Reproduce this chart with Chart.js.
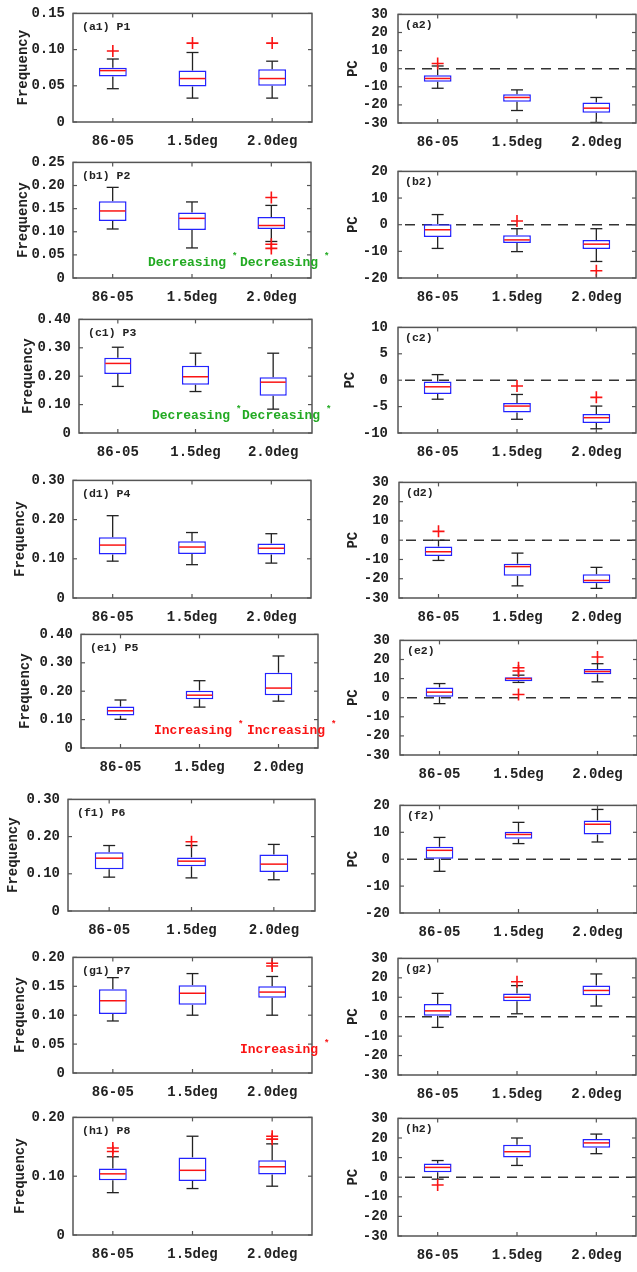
<!DOCTYPE html>
<html><head><meta charset="utf-8">
<script src="https://cdn.jsdelivr.net/npm/chart.js@4.4.1/dist/chart.umd.min.js"></script>
<style>
html,body{margin:0;padding:0;background:#fff;width:637px;height:1272px;overflow:hidden;position:relative}
canvas{position:absolute}
</style></head><body>
<script>
// ---------- DATA ----------
const categories = ['86-05', '1.5deg', '2.0deg'];
// each entry: [lower whisker, Q1, median, Q3, upper whisker]
const freqP1 = [[0.046,0.063,0.071,0.075,0.087],[0.033,0.049,0.060,0.071,0.096],[0.033,0.050,0.060,0.073,0.084]];
const freqP1Out = [[0.098],[0.109],[0.109]];
const pcP1 = [[-10.8,-7.2,-5.4,-3.6,1.5],[-23.1,-18.2,-15.9,-14.1,-11.7],[-29.7,-24.3,-21.8,-18.7,-15.9]];
const pcP1Out = [[2.9],[],[]];

const freqP2 = [[0.106,0.123,0.145,0.166,0.196],[0.065,0.104,0.129,0.1415,0.1645],[0.079,0.106,0.1135,0.132,0.157]];
const freqP2Out = [[],[],[0.174,0.073,0.064]];
const pcP2 = [[-8.9,-4.6,-1.9,0.2,3.8],[-10.1,-6.9,-5.7,-4.0,-1.5],[-13.8,-9.1,-7.3,-5.7,-1.5]];
const pcP2Out = [[],[1.4],[-17.3]];

const freqP3 = [[0.164,0.208,0.245,0.265,0.302],[0.146,0.170,0.198,0.237,0.281],[0.084,0.131,0.179,0.196,0.281]];
const freqP3Out = [[],[],[]];
const pcP3 = [[-3.6,-2.6,-1.25,-0.25,1.06],[-7.4,-6.1,-4.9,-4.3,-2.7],[-9.2,-8.1,-7.1,-6.4,-4.9]];
const pcP3Out = [[],[-1.1],[-3.25]];

const freqP4 = [[0.094,0.111,0.135,0.155,0.210],[0.085,0.112,0.130,0.145,0.167],[0.089,0.111,0.127,0.139,0.164]];
const freqP4Out = [[],[],[]];
const pcP4 = [[-10.5,-8.2,-6.0,-3.3,0],[-23.7,-18.5,-13.7,-12.2,-6.7],[-25.0,-22.3,-20.9,-17.7,-14.1]];
const pcP4Out = [[4.6],[],[]];

const freqP5 = [[0.101,0.114,0.131,0.146,0.169],[0.144,0.172,0.186,0.202,0.237],[0.165,0.186,0.211,0.265,0.324]];
const freqP5Out = [[],[],[]];
const pcP5 = [[-3.1,0.5,2.9,5.4,7.4],[8.0,8.65,10.0,10.7,11.8],[8.3,12.3,13.7,15.0,17.8]];
const pcP5Out = [[],[15.7,14.0,1.7],[21.3]];

const freqP6 = [[0.091,0.112,0.142,0.158,0.176],[0.089,0.120,0.134,0.144,0.176],[0.084,0.105,0.126,0.152,0.179]];
const freqP6Out = [[],[0.186],[]];
const pcP6 = [[-4.5,0.2,3.3,4.6,8.1],[5.8,7.6,9.2,10.2,13.7],[6.4,9.2,13.0,14.4,18.5]];
const pcP6Out = [[],[],[]];

const freqP7 = [[0.090,0.102,0.125,0.145,0.165],[0.100,0.118,0.138,0.152,0.172],[0.100,0.130,0.140,0.150,0.167]];
const freqP7Out = [[],[],[0.185,0.190]];
const pcP7 = [[-5.5,0.5,3.0,6.5,12.0],[1.5,8.0,10.0,12.0,16.0],[5.5,11.0,13.5,16.0,22.0]];
const pcP7Out = [[],[18.0],[]];

const freqP8 = [[0.072,0.093,0.104,0.113,0.133],[0.079,0.092,0.110,0.132,0.168],[0.083,0.103,0.116,0.127,0.155]];
const freqP8Out = [[0.142,0.148],[],[0.163,0.168]];
const pcP8 = [[-1.0,2.5,5.0,7.0,8.5],[6.0,10.0,13.0,16.5,20.0],[12.0,15.0,17.5,19.5,22.0]];
const pcP8Out = [[-4.0],[],[]];

// tick labels
const ticksF015 = ['0','0.05','0.10','0.15'];
const ticksF025 = ['0','0.05','0.10','0.15','0.20','0.25'];
const ticksF040 = ['0','0.10','0.20','0.30','0.40'];
const ticksF030 = ['0','0.10','0.20','0.30'];
const ticksF020a = ['0','0.05','0.10','0.15','0.20'];
const ticksF020b = ['0','0.10','0.20'];
const ticksPC30 = ['-30','-20','-10','0','10','20','30'];
const ticksPC20 = ['-20','-10','0','10','20'];
const ticksPC10 = ['-10','-5','0','5','10'];

// ---------- LAYOUT ----------
const FONT = "'Liberation Mono','DejaVu Sans Mono',monospace";
const GREEN = 'rgb(34,170,34)', RED = 'rgb(250,20,20)';
const panels = [
 {lab:'(a1) P1', side:0, stats:freqP1, out:freqP1Out, ticks:ticksF015, L:73,R:312,T:13,B:122, tx:23},
 {lab:'(a2)',    side:1, stats:pcP1,   out:pcP1Out,   ticks:ticksPC30, L:398,R:636,T:12,B:123, tx:353},
 {lab:'(b1) P2', side:0, stats:freqP2, out:freqP2Out, ticks:ticksF025, L:73,R:311,T:162,B:278, tx:23,
   notes:[{t:'Decreasing',c:GREEN,x:148,v:0.032},{t:'Decreasing',c:GREEN,x:240,v:0.032}]},
 {lab:'(b2)',    side:1, stats:pcP2,   out:pcP2Out,   ticks:ticksPC20, L:398,R:636,T:169,B:278, tx:353},
 {lab:'(c1) P3', side:0, stats:freqP3, out:freqP3Out, ticks:ticksF040, L:79,R:312,T:319,B:433, tx:28,
   notes:[{t:'Decreasing',c:GREEN,x:152,v:0.06},{t:'Decreasing',c:GREEN,x:242,v:0.06}]},
 {lab:'(c2)',    side:1, stats:pcP3,   out:pcP3Out,   ticks:ticksPC10, L:398,R:636,T:325,B:433, tx:350},
 {lab:'(d1) P4', side:0, stats:freqP4, out:freqP4Out, ticks:ticksF030, L:73,R:311,T:480,B:598, tx:20},
 {lab:'(d2)',    side:1, stats:pcP4,   out:pcP4Out,   ticks:ticksPC30, L:399,R:636,T:480,B:598, tx:353},
 {lab:'(e1) P5', side:0, stats:freqP5, out:freqP5Out, ticks:ticksF040, L:81,R:318,T:634,B:748, tx:25,
   notes:[{t:'Increasing',c:RED,x:154,v:0.06},{t:'Increasing',c:RED,x:247,v:0.06}]},
 {lab:'(e2)',    side:1, stats:pcP5,   out:pcP5Out,   ticks:ticksPC30, L:400,R:637,T:638,B:755, tx:353},
 {lab:'(f1) P6', side:0, stats:freqP6, out:freqP6Out, ticks:ticksF030, L:68,R:315,T:799,B:911, tx:13},
 {lab:'(f2)',    side:1, stats:pcP6,   out:pcP6Out,   ticks:ticksPC20, L:400,R:637,T:803,B:913, tx:353},
 {lab:'(g1) P7', side:0, stats:freqP7, out:freqP7Out, ticks:ticksF020a, L:73,R:312,T:957,B:1073, tx:20,
   notes:[{t:'Increasing',c:RED,x:240,v:0.041}]},
 {lab:'(g2)',    side:1, stats:pcP7,   out:pcP7Out,   ticks:ticksPC30, L:398,R:636,T:956,B:1075, tx:353},
 {lab:'(h1) P8', side:0, stats:freqP8, out:freqP8Out, ticks:ticksF020b, L:73,R:312,T:1117,B:1235, tx:20},
 {lab:'(h2)',    side:1, stats:pcP8,   out:pcP8Out,   ticks:ticksPC30, L:398,R:636,T:1116,B:1236, tx:353},
];

function seg(ctx,x1,y1,x2,y2){ctx.beginPath();ctx.moveTo(x1,y1);ctx.lineTo(x2,y2);ctx.stroke();}

function boxPlugin(p){
  return {
    id:'boxplot',
    beforeDatasetsDraw(chart){
      const {ctx, chartArea:a, scales:{x,y}} = chart;
      ctx.save();
      if(p.side===1){
        const y0=y.getPixelForValue(0);
        ctx.strokeStyle='#333'; ctx.lineWidth=1.6; ctx.setLineDash([10,7]); ctx.lineDashOffset=-7;
        seg(ctx,a.left,y0,a.right,y0); ctx.setLineDash([]);
      }
      ctx.strokeStyle='#222'; ctx.lineWidth=1.3;
      p.stats.forEach((s,i)=>{
        const cx=x.getPixelForValue(i);
        const pwb=y.getPixelForValue(s[0]), pq1=y.getPixelForValue(s[1]);
        const pq3=y.getPixelForValue(s[3]), pwt=y.getPixelForValue(s[4]);
        seg(ctx,cx,pq3,cx,pwt); seg(ctx,cx-6,pwt,cx+6,pwt);
        seg(ctx,cx,pq1,cx,pwb); seg(ctx,cx-6,pwb,cx+6,pwb);
      });
      ctx.restore();
    },
    afterDatasetDraw(chart,args){
      if(args.meta.type!=='bar') return;
      const {ctx, scales:{x,y}} = chart;
      ctx.save(); ctx.strokeStyle=RED; ctx.lineWidth=1.5;
      args.meta.data.forEach((bar,i)=>{
        const hw=bar.width/2-1; const cx=x.getPixelForValue(i); const pm=y.getPixelForValue(p.stats[i][2]);
        seg(ctx,cx-hw,pm,cx+hw,pm);
      });
      ctx.restore();
    },
    afterDraw(chart){
      const {ctx, chartArea:a, scales:{x,y}} = chart;
      ctx.save();
      ctx.strokeStyle='#555'; ctx.lineWidth=1.5;
      ctx.strokeRect(a.left,a.top,a.right-a.left,a.bottom-a.top);
      ctx.lineWidth=1.2;
      categories.forEach((c,i)=>{const px=x.getPixelForValue(i); seg(ctx,px,a.top,px,a.top+4); seg(ctx,px,a.bottom,px,a.bottom-4);});
      y.ticks.forEach(t=>{const py=y.getPixelForValue(t.value); seg(ctx,a.left,py,a.left+4,py); seg(ctx,a.right,py,a.right-4,py);});
      ctx.fillStyle='#222'; ctx.font='bold 11.5px '+FONT; ctx.textBaseline='middle'; ctx.textAlign='left';
      ctx.fillText(p.lab, a.left+(p.side?7:9), a.top+(p.side?11:14));
      (p.notes||[]).forEach(n=>{
        const py=y.getPixelForValue(n.v); const lx=n.x-p.cx;
        ctx.fillStyle=n.c; ctx.font='bold 13px '+FONT; ctx.fillText(n.t,lx,py);
        const w=ctx.measureText(n.t).width;
        ctx.font='bold 9px '+FONT; ctx.fillText('*',lx+w+6,py-6);
      });
      ctx.restore();
    }
  };
}

function makePanel(p){
  const cx = p.side ? 320 : 0, cw = p.side ? 317 : 345;
  const cy = p.T - 16, ch = p.B - cy + 36;
  p.cx = cx;
  const cv=document.createElement('canvas');
  cv.width=cw; cv.height=ch;
  Object.assign(cv.style,{left:cx+'px',top:cy+'px',width:cw+'px',height:ch+'px'});
  document.body.appendChild(cv);
  const tickVals = p.ticks.map(Number);
  const outPts=[]; p.out.forEach((arr,i)=>arr.forEach(v=>outPts.push({x:categories[i],y:v})));
  new Chart(cv,{
    type:'bar',
    data:{labels:categories, datasets:[
      {type:'bar', data:p.stats.map(s=>[s[1],s[3]]), backgroundColor:'#fff', borderColor:'rgb(35,35,255)',
       borderWidth:1.5, borderSkipped:false, barPercentage:0.35, categoryPercentage:1, order:2},
      {type:'line', data:outPts, showLine:false, pointStyle:'cross', pointRadius:6, pointBorderWidth:1.6,
       borderColor:RED, pointBorderColor:RED, order:1, clip:false}
    ]},
    options:{
      responsive:false, animation:false, devicePixelRatio:1,
      events:[],
      layout:{autoPadding:false, padding:{left:0,top:16,right:cw-(p.R-cx),bottom:0}},
      plugins:{legend:{display:false},tooltip:{enabled:false}},
      scales:{
        x:{type:'category', offset:true, grid:{display:false,drawTicks:false}, border:{display:false},
           ticks:{color:'#222',padding:11,font:{family:FONT,size:14,weight:'bold'},maxRotation:0,autoSkip:false},
           afterFit(s){s.height=ch-(p.B-cy);}},
        y:{type:'linear', min:tickVals[0], max:tickVals[tickVals.length-1],
           grid:{display:false,drawTicks:false}, border:{display:false},
           afterBuildTicks(s){s.ticks=tickVals.map(v=>({value:v}));},
           ticks:{color:'#222',padding:p.side?10:8,autoSkip:false,font:{family:FONT,size:14,weight:'bold'},
                  callback:(v)=>p.ticks[tickVals.indexOf(v)] ?? ''},
           title:{display:true,text:p.side?'PC':'Frequency',color:'#222',font:{family:FONT,size:14,weight:'bold'},
                  padding:{top:(p.tx-cx)-8.4,bottom:0}},
           afterFit(s){s.width=p.L-cx;}}
      }
    },
    plugins:[boxPlugin(p)]
  });
}
panels.forEach(makePanel);
</script></body></html>
